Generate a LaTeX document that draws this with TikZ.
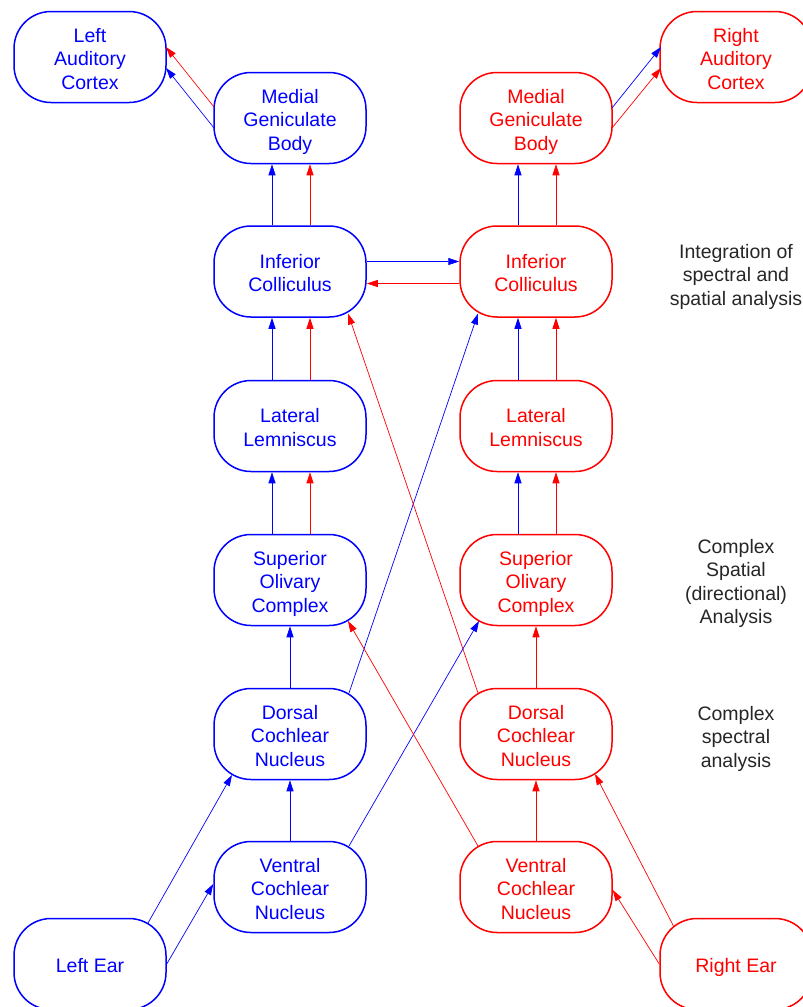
\documentclass[tikz,border=0pt]{standalone}
\usepackage{fontspec}
\setmainfont{Liberation Sans}
\usetikzlibrary{arrows.meta}
\definecolor{cb}{RGB}{0,0,255}
\definecolor{cr}{RGB}{255,0,0}
\newcommand{\topstrut}{\rule{0pt}{22pt}}
\begin{document}
\begin{tikzpicture}[x=1pt,y=-1pt,
  box/.style={draw, line width=1.5pt, rounded corners=37pt, minimum width=152pt,
    minimum height=91pt, align=center, inner sep=0pt,
    font=\fontsize{19.5}{23.5}\selectfont,
    execute at end node={\rule[-5pt]{0pt}{5pt}}},
  bl/.style={box, draw=cb, text=cb},
  rd/.style={box, draw=cr, text=cr},
  arr/.style={-{Triangle[length=11pt,width=7pt]}, line width=0.7pt},
  ab/.style={arr, color=cb},
  ar/.style={arr, color=cr},
  side/.style={align=center, text=black!85, inner sep=0pt,
    font=\fontsize{19.5}{23.5}\selectfont,
    execute at end node={\rule[-5pt]{0pt}{5pt}}}
]
\useasboundingbox (0,0) rectangle (803,1007);
% nodes
\node[bl] (lac) at (90,57) {\topstrut Left\\Auditory\\Cortex};
\node[rd] (rac) at (736,57) {\topstrut Right\\Auditory\\Cortex};
\node[bl] (mgbL) at (290,118) {\topstrut Medial\\Geniculate\\Body};
\node[rd] (mgbR) at (536,118) {\topstrut Medial\\Geniculate\\Body};
\node[bl] (icL) at (290,271.5) {\topstrut Inferior\\Colliculus};
\node[rd] (icR) at (536,271.5) {\topstrut Inferior\\Colliculus};
\node[bl] (llL) at (290,426) {\topstrut Lateral\\Lemniscus};
\node[rd] (llR) at (536,426) {\topstrut Lateral\\Lemniscus};
\node[bl] (socL) at (290,580) {\topstrut Superior\\Olivary\\Complex};
\node[rd] (socR) at (536,580) {\topstrut Superior\\Olivary\\Complex};
\node[bl] (dcnL) at (290,734) {\topstrut Dorsal\\Cochlear\\Nucleus};
\node[rd] (dcnR) at (536,734) {\topstrut Dorsal\\Cochlear\\Nucleus};
\node[bl] (vcnL) at (290,887) {\topstrut Ventral\\Cochlear\\Nucleus};
\node[rd] (vcnR) at (536,887) {\topstrut Ventral\\Cochlear\\Nucleus};
\node[bl] (earL) at (90,964) {\topstrut Left Ear};
\node[rd] (earR) at (736,964) {\topstrut Right Ear};
% side labels
\node[side] (t1) at (736,273) {\topstrut Integration of\\spectral and\\spatial analysis};
\node[side] (t2) at (736,580) {\topstrut Complex\\Spatial\\(directional)\\Analysis};
\node[side] (t3) at (736,735) {\topstrut Complex\\spectral\\analysis};
% to cortex
\draw[ar] ([shift={(-76,-11)}]mgbL.center) -- ([shift={(76,-10)}]lac.center);
\draw[ab] ([shift={(-76,10)}]mgbL.center) -- ([shift={(76,11)}]lac.center);
\draw[ab] ([shift={(76,-10)}]mgbR.center) -- ([shift={(-75,-10)}]rac.center);
\draw[ar] ([shift={(76,10)}]mgbR.center) -- ([shift={(-75,11)}]rac.center);
% vertical pairs left
\draw[ab] ([xshift=-18pt]icL.north) -- ([xshift=-18pt]mgbL.south);
\draw[ar] ([xshift=20pt]icL.north) -- ([xshift=20pt]mgbL.south);
\draw[ab] ([xshift=-18pt]llL.north) -- ([xshift=-18pt]icL.south);
\draw[ar] ([xshift=20pt]llL.north) -- ([xshift=20pt]icL.south);
\draw[ab] ([xshift=-18pt]socL.north) -- ([xshift=-18pt]llL.south);
\draw[ar] ([xshift=20pt]socL.north) -- ([xshift=20pt]llL.south);
% vertical pairs right
\draw[ab] ([xshift=-18pt]icR.north) -- ([xshift=-18pt]mgbR.south);
\draw[ar] ([xshift=20pt]icR.north) -- ([xshift=20pt]mgbR.south);
\draw[ab] ([xshift=-18pt]llR.north) -- ([xshift=-18pt]icR.south);
\draw[ar] ([xshift=20pt]llR.north) -- ([xshift=20pt]icR.south);
\draw[ab] ([xshift=-18pt]socR.north) -- ([xshift=-18pt]llR.south);
\draw[ar] ([xshift=20pt]socR.north) -- ([xshift=20pt]llR.south);
% singles
\draw[ab] (dcnL.north) -- (socL.south);
\draw[ab] (vcnL.north) -- (dcnL.south);
\draw[ar] (dcnR.north) -- (socR.south);
\draw[ar] (vcnR.north) -- (dcnR.south);
% colliculi crossing
\draw[ab] ([shift={(0,-10)}]icL.east) -- ([shift={(0,-10)}]icR.west);
\draw[ar] ([shift={(0,12)}]icR.west) -- ([shift={(0,12)}]icL.east);
% crossing diagonals
\draw[ab] ([shift={(59,-41)}]dcnL.center) -- ([shift={(-58,42)}]icR.center);
\draw[ar] ([shift={(-58,-41)}]dcnR.center) -- ([shift={(58,42)}]icL.center);
\draw[ab] ([shift={(59,-41)}]vcnL.center) -- ([shift={(-57,41)}]socR.center);
\draw[ar] ([shift={(-58,-41)}]vcnR.center) -- ([shift={(58,41)}]socL.center);
% ears
\draw[ab] ([shift={(58,-41)}]earL.center) -- ([shift={(-58,41)}]dcnL.center);
\draw[ab] (earL.east) -- ([shift={(0,-3)}]vcnL.west);
\draw[ar] ([shift={(-62,-37)}]earR.center) -- ([shift={(59,40)}]dcnR.center);
\draw[ar] (earR.west) -- ([shift={(0,3)}]vcnR.east);
\end{tikzpicture}
\end{document}
